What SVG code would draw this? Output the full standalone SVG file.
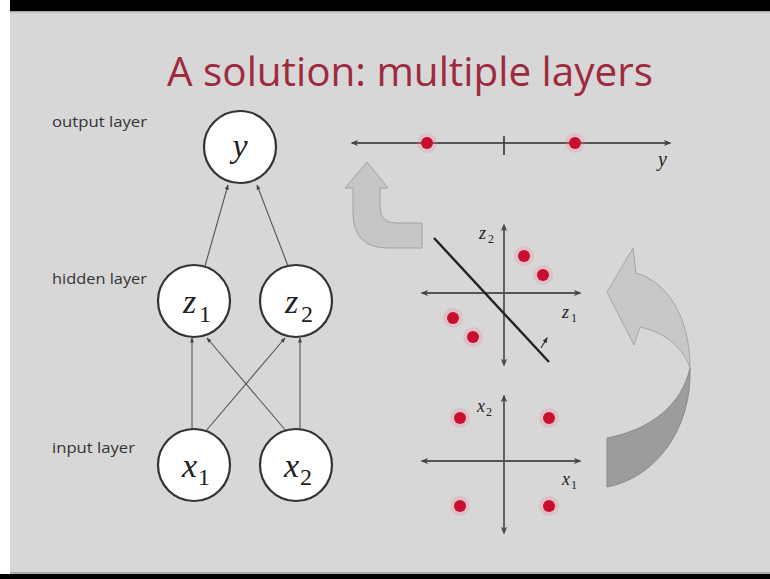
<svg xmlns="http://www.w3.org/2000/svg" width="770" height="579" viewBox="0 0 770 579">
<defs>
<style>
.lbl{font-family:"Open Sans","Liberation Sans",sans-serif;font-size:14px;fill:#333}
.math{font-family:"Liberation Serif","DejaVu Serif",serif;font-style:italic;fill:#222}
.sub{font-family:"Liberation Serif","DejaVu Serif",serif;fill:#222}
.node{fill:#fff;stroke:#333;stroke-width:2.2}
.edge{stroke:#555;stroke-width:1.1;fill:none;marker-end:url(#ah)}
.axis{stroke:#555;stroke-width:1.8;fill:none;marker-start:url(#ax);marker-end:url(#ax)}
.dot{fill:#c8102e}
.halo{fill:#f08090;opacity:0.25}
</style>
<marker id="ah" viewBox="0 0 10 10" refX="9" refY="5" markerWidth="5" markerHeight="5" orient="auto" markerUnits="userSpaceOnUse"><path d="M0,1 L10,5 L0,9 Z" fill="#444"/></marker>
<marker id="ax" viewBox="0 0 10 10" refX="8" refY="5" markerWidth="8" markerHeight="8" orient="auto-start-reverse" markerUnits="userSpaceOnUse"><path d="M0,1 L10,5 L0,9 L3,5 Z" fill="#444"/></marker>
<marker id="sm" viewBox="0 0 10 10" refX="8" refY="5" markerWidth="6" markerHeight="6" orient="auto" markerUnits="userSpaceOnUse"><path d="M0,1 L10,5 L0,9 Z" fill="#333"/></marker>
</defs>
<rect x="0" y="0" width="770" height="579" fill="#fff"/>
<rect x="10" y="0" width="760" height="579" fill="#d7d7d7"/>
<rect x="10" y="0" width="760" height="11" fill="#000"/>
<rect x="10" y="11" width="760" height="1.5" fill="#a8a8a8"/>
<rect x="10" y="572" width="760" height="2" fill="#aaa"/>
<rect x="0" y="574" width="770" height="5" fill="#000"/>

<text x="167" y="86" font-family="'Open Sans','Liberation Sans',sans-serif" font-size="40" fill="#9e2a3e" textLength="486" lengthAdjust="spacingAndGlyphs">A solution: multiple layers</text>

<text class="lbl" x="52" y="127" textLength="95" lengthAdjust="spacingAndGlyphs">output layer</text>
<text class="lbl" x="52" y="284" textLength="95" lengthAdjust="spacingAndGlyphs">hidden layer</text>
<text class="lbl" x="52" y="453" textLength="83" lengthAdjust="spacingAndGlyphs">input layer</text>

<g id="connectors">
<line class="edge" x1="205" y1="266" x2="228" y2="185"/>
<line class="edge" x1="288" y1="266" x2="257" y2="185"/>
<line class="edge" x1="192" y1="430" x2="192" y2="338"/>
<line class="edge" x1="205" y1="432" x2="285" y2="338"/>
<line class="edge" x1="287" y1="432" x2="207" y2="338"/>
<line class="edge" x1="300" y1="430" x2="300" y2="338"/>
</g>

<g id="node-y">
<circle class="node" cx="240" cy="147" r="36"/>
<text class="math" x="240" y="157" font-size="34" text-anchor="middle">y</text>
</g>
<g id="node-z1">
<circle class="node" cx="194" cy="301" r="36"/>
<text class="math" x="183" y="313" font-size="34">z</text><text class="sub" x="199" y="322" font-size="24">1</text>
</g>
<g id="node-z2">
<circle class="node" cx="296" cy="301" r="36"/>
<text class="math" x="285" y="313" font-size="34">z</text><text class="sub" x="301" y="322" font-size="24">2</text>
</g>
<g id="node-x1">
<circle class="node" cx="194" cy="465" r="36"/>
<text class="math" x="182" y="477" font-size="34">x</text><text class="sub" x="198" y="485" font-size="24">1</text>
</g>
<g id="node-x2">
<circle class="node" cx="296" cy="465" r="36"/>
<text class="math" x="284" y="477" font-size="34">x</text><text class="sub" x="300" y="485" font-size="24">2</text>
</g>

<g id="y-line">
<line class="axis" x1="352" y1="143" x2="670" y2="143"/>
<line x1="504" y1="136" x2="504" y2="155" stroke="#444" stroke-width="1.8"/>
<circle class="halo" cx="427" cy="143" r="10"/><circle class="dot" cx="427" cy="143" r="6"/>
<circle class="halo" cx="575" cy="143" r="10"/><circle class="dot" cx="575" cy="143" r="6"/>
<text class="math" x="658" y="166" font-size="20">y</text>
</g>

<g id="small-arrow">
<path d="M422,223 L396,223 Q380,223 380,207 L380,188 L388,188 L367,162 L345,188 L353,188 L353,213 Q353,248 388,248 L422,248 Z" fill="#c6c6c6" stroke="#a2a2a2" stroke-width="1"/>
</g>

<g id="z-plot">
<line class="axis" x1="422" y1="293" x2="580" y2="293"/>
<line class="axis" x1="504" y1="365" x2="504" y2="225"/>
<line x1="434" y1="238" x2="549" y2="362" stroke="#222" stroke-width="2.4"/>
<line x1="541" y1="348" x2="547" y2="338" stroke="#333" stroke-width="1.2" marker-end="url(#sm)"/>
<circle class="halo" cx="524" cy="256" r="10"/><circle class="dot" cx="524" cy="256" r="6"/>
<circle class="halo" cx="543" cy="275" r="10"/><circle class="dot" cx="543" cy="275" r="6"/>
<circle class="halo" cx="453" cy="318" r="10"/><circle class="dot" cx="453" cy="318" r="6"/>
<circle class="halo" cx="473" cy="337" r="10"/><circle class="dot" cx="473" cy="337" r="6"/>
<text class="math" x="479" y="239" font-size="18">z</text><text class="sub" x="488" y="243" font-size="12">2</text>
<text class="math" x="562" y="318" font-size="18">z</text><text class="sub" x="571" y="322" font-size="12">1</text>
</g>

<g id="x-plot">
<line class="axis" x1="422" y1="461" x2="580" y2="461"/>
<line class="axis" x1="504" y1="533" x2="504" y2="396"/>
<circle class="halo" cx="460" cy="418" r="10"/><circle class="dot" cx="460" cy="418" r="6"/>
<circle class="halo" cx="549" cy="418" r="10"/><circle class="dot" cx="549" cy="418" r="6"/>
<circle class="halo" cx="460" cy="506" r="10"/><circle class="dot" cx="460" cy="506" r="6"/>
<circle class="halo" cx="549" cy="506" r="10"/><circle class="dot" cx="549" cy="506" r="6"/>
<text class="math" x="477" y="412" font-size="18">x</text><text class="sub" x="486" y="416" font-size="12">2</text>
<text class="math" x="562" y="485" font-size="18">x</text><text class="sub" x="571" y="489" font-size="12">1</text>
</g>

<g id="big-arrow">
<path d="M633,248 L636,273 C668,282 690,318 690,368 C684,350 668,333 640,327 L634,345 L607,292 Z" fill="#c8c8c8" stroke="#a5a5a5" stroke-width="1"/>
<path d="M690,368 C692,430 655,478 607,487 L607,438 C650,430 682,405 690,368 Z" fill="#9c9c9c" stroke="#8a8a8a" stroke-width="1"/>
</g>
</svg>
